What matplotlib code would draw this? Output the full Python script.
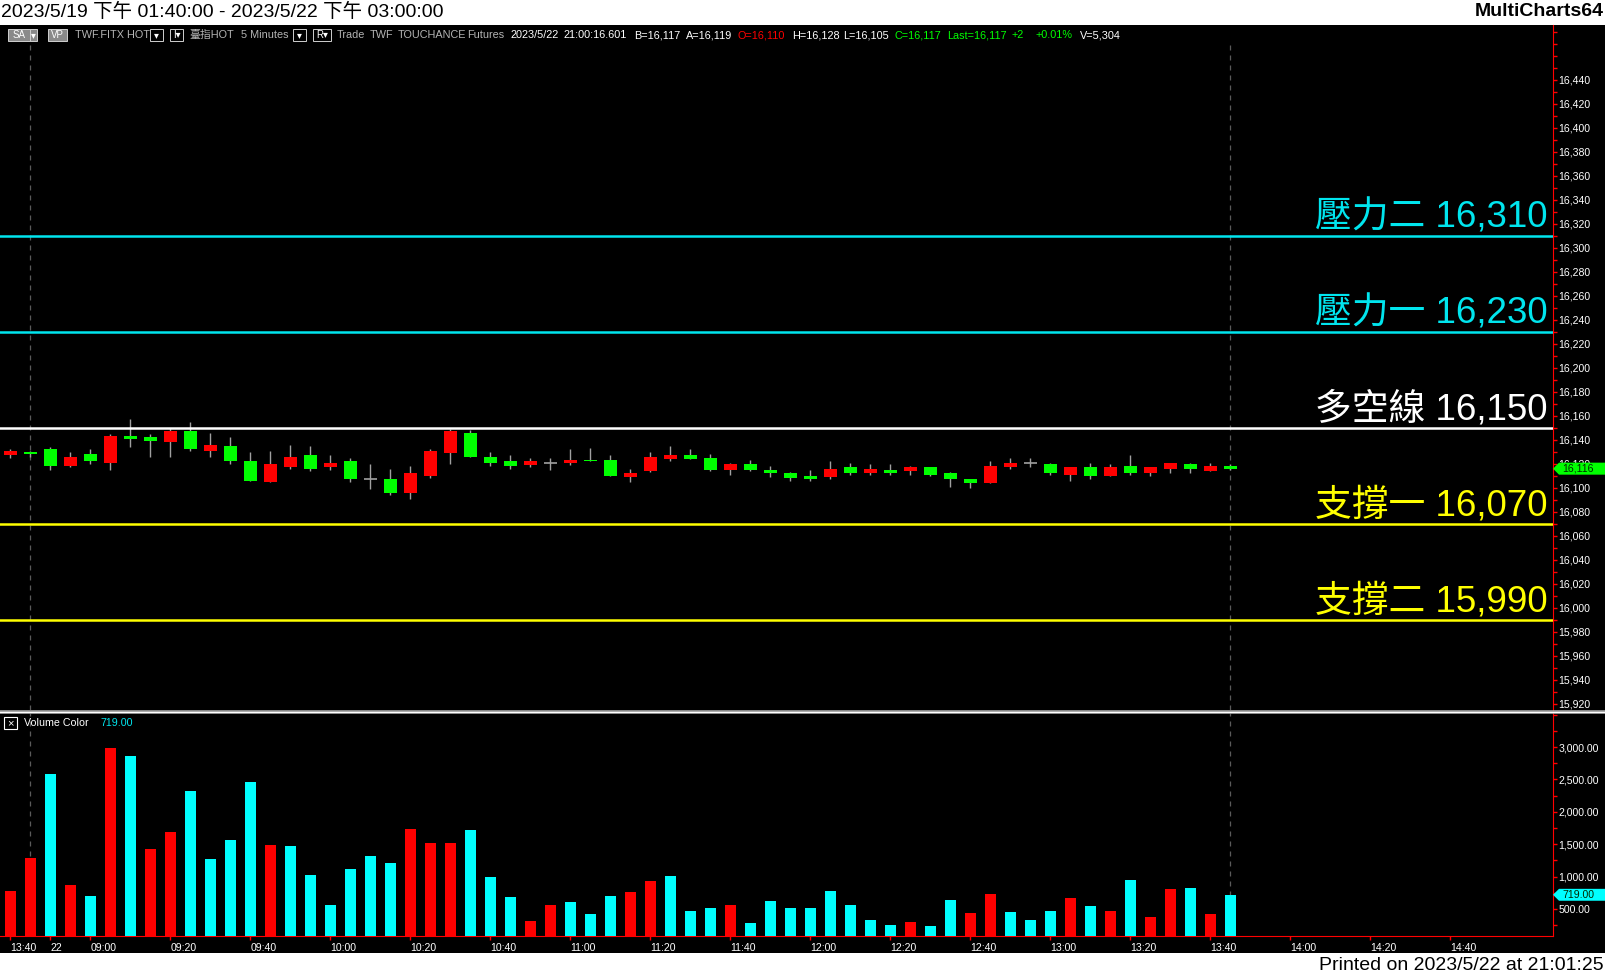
# MultiCharts style 5 minute chart with pressure / support levels
import matplotlib
matplotlib.use('Agg')
import matplotlib.pyplot as plt
from matplotlib.patches import Rectangle, Polygon
from matplotlib.lines import Line2D
import numpy as np

plt.rcParams['font.family'] = ['Liberation Sans', 'Noto Sans CJK TC', 'DejaVu Sans']

# ---- data ----
opens = [16127, 16130, 16132, 16118, 16128, 16121, 16143, 16142, 16138, 16147,
         16131, 16135, 16122, 16105, 16117, 16127, 16117, 16122, 16107, 16107,
         16096, 16110, 16129, 16146, 16126, 16122, 16119, 16121, 16121, 16123,
         16123, 16109, 16114, 16124, 16127, 16125, 16115, 16120, 16115, 16112,
         16110, 16109, 16117, 16112, 16115, 16114, 16117, 16112, 16107, 16104,
         16117, 16121, 16120, 16111, 16117, 16110, 16118, 16112, 16116, 16120,
         16114, 16118]
highs = [16132, 16131, 16134, 16130, 16132, 16145, 16157, 16145, 16150, 16155,
         16146, 16142, 16130, 16131, 16136, 16135, 16127, 16125, 16120, 16116,
         16118, 16132, 16149, 16148, 16130, 16127, 16125, 16125, 16132, 16133,
         16127, 16116, 16130, 16135, 16132, 16128, 16121, 16123, 16118, 16113,
         16115, 16122, 16121, 16120, 16120, 16118, 16117, 16113, 16107, 16122,
         16125, 16125, 16121, 16117, 16121, 16120, 16127, 16117, 16121, 16121,
         16121, 16120]
lows = [16125, 16126, 16115, 16117, 16120, 16115, 16134, 16126, 16126, 16131,
        16126, 16120, 16106, 16105, 16116, 16114, 16115, 16105, 16099, 16094,
        16091, 16108, 16120, 16126, 16118, 16116, 16117, 16115, 16119, 16122,
        16110, 16105, 16113, 16122, 16124, 16114, 16111, 16114, 16109, 16106,
        16106, 16107, 16111, 16111, 16111, 16111, 16110, 16101, 16100, 16104,
        16116, 16117, 16111, 16106, 16107, 16110, 16111, 16110, 16112, 16112,
        16114, 16115]
closes = [16131, 16128, 16118, 16126, 16122, 16143, 16141, 16139, 16147, 16132,
          16136, 16122, 16106, 16120, 16126, 16116, 16121, 16107, 16107, 16096,
          16112, 16131, 16147, 16126, 16121, 16118, 16122, 16121, 16123, 16122,
          16110, 16112, 16126, 16127, 16124, 16115, 16120, 16115, 16112, 16108,
          16107, 16116, 16112, 16116, 16112, 16117, 16111, 16107, 16104, 16118,
          16121, 16121, 16112, 16117, 16110, 16117, 16112, 16117, 16121, 16116,
          16118, 16116]
volumes = [778, 1287, 2583, 870, 701, 2985, 2861, 1425, 1688, 2321,
           1271, 1565, 2460, 1488, 1472, 1025, 562, 1117, 1318, 1210,
           1735, 1518, 1518, 1719, 994, 685, 315, 562, 608, 423,
           701, 762, 932, 1009, 469, 515, 562, 284, 623, 515,
           515, 778, 562, 330, 253, 299, 238, 639, 438, 732,
           454, 330, 469, 670, 546, 469, 947, 376, 809, 824,
           423, 719]
# 1 = red volume bar, 0 = cyan volume bar
vol_up = [1, 1, 0, 1, 0, 1, 0, 1, 1, 0,
          0, 0, 0, 1, 0, 0, 0, 0, 0, 0,
          1, 1, 1, 0, 0, 0, 1, 1, 0, 0,
          0, 1, 1, 0, 0, 0, 1, 0, 0, 0,
          0, 0, 0, 0, 0, 1, 0, 0, 1, 1,
          0, 0, 0, 1, 0, 1, 0, 1, 1, 0,
          1, 0]

tick_idx = [0, 2, 4, 8, 12, 16, 20, 24, 28, 32, 36, 40, 44, 48, 52, 56, 60, 64, 68, 72]
tick_labels = ['13:40', '22', '09:00', '09:20', '09:40', '10:00', '10:20', '10:40',
               '11:00', '11:20', '11:40', '12:00', '12:20', '12:40', '13:00', '13:20',
               '13:40', '14:00', '14:20', '14:40']
session_end = [1, 61]

level_names = ['壓力二', '壓力一', '多空線', '支撐一', '支撐二']
level_values = [16310, 16230, 16150, 16070, 15990]
level_colors = ['#00e5ee', '#00e5ee', '#ffffff', '#ffff00', '#ffff00']

last_price = 16116
last_volume = 719.00

# ---- figure layout in pixels ----
W, H = 1606, 976
AX_R = 1553


def fx(px):
    return px / W


def fy(py):
    return 1 - py / H


fig = plt.figure(figsize=(W / 100, H / 100), dpi=100)
fig.patch.set_facecolor('white')
fig.add_artist(Rectangle((0, fy(953)), 1, fy(25) - fy(953), transform=fig.transFigure,
                         facecolor='black', edgecolor='none', zorder=-5))

ax = fig.add_axes([0, fy(710), fx(AX_R), (710 - 25) / H])
axv = fig.add_axes([0, fy(936), fx(AX_R), (936 - 713) / H])
for a in (ax, axv):
    a.set_facecolor('black')
    a.set_xlim(-0.525, (AX_R - 10.5) / 20)
    for s in ('top', 'left', 'bottom'):
        a.spines[s].set_visible(False)
    a.spines['right'].set_color('red')
axv.spines['bottom'].set_visible(True)
axv.spines['bottom'].set_color('red')

p_lo, p_hi = 15914.9, 16485.7
ax.set_ylim(p_lo, p_hi)
axv.set_ylim(83, 3525)

# ---- candles ----
o, h, l, c = (np.array(v, dtype=float) for v in (opens, highs, lows, closes))
x = np.arange(len(o))
body_col = np.where(c > o, '#ff0000', '#00ff00')
ax.vlines(x, l, h, color='#a0a0a0', lw=1, zorder=2)
ax.bar(x, np.abs(c - o), bottom=np.minimum(o, c), width=0.65, color=body_col,
       linewidth=0, zorder=3)
doji = c == o
ax.hlines(o[doji], x[doji] - 0.325, x[doji] + 0.325, color='#a0a0a0', lw=1.2, zorder=3)

# session end markers
for i in session_end:
    ax.vlines(i, p_lo, 16469, color='#5a5a5a', lw=0.9, linestyles=(0, (4, 4)), zorder=1)
    axv.axvline(i, color='#5a5a5a', lw=0.9, ls=(0, (4, 4)), zorder=1)

# levels
for name, v, col in zip(level_names, level_values, level_colors):
    ax.axhline(v, color=col, lw=1.8, zorder=4)
    ax.text(1548 / AX_R, v + 7, f'{name} {v:,}', transform=ax.get_yaxis_transform(),
            ha='right', va='baseline', fontsize=26.5, color=col, zorder=5,
            family=['Liberation Sans', 'Noto Sans CJK TC'])

# price axis
ax.yaxis.tick_right()
major = np.arange(15920, 16481, 20)
ax.set_yticks(major)
ax.set_yticklabels([f'{v:,}' if v <= 16440 else '' for v in major])
ax.set_yticks(np.arange(15920, 16481, 10), minor=True)
ax.tick_params(axis='y', which='both', direction='out', length=3, width=1,
               color='red', labelcolor='white', labelsize=7.6, pad=1)
ax.set_xticks([])


def tag(axis, yval, half, text, fc):
    tr = axis.get_yaxis_transform()
    pts = [(1, yval), (1 + 6 / AX_R, yval + half), (1 + 52 / AX_R, yval + half),
           (1 + 52 / AX_R, yval - half), (1 + 6 / AX_R, yval - half)]
    axis.add_patch(Polygon(pts, closed=True, transform=tr, facecolor=fc,
                           edgecolor='none', clip_on=False, zorder=6))
    axis.text(1 + 9 / AX_R, yval, text, transform=tr, ha='left', va='center',
              fontsize=7.6, color='#002a00', clip_on=False, zorder=7)


tag(ax, last_price, 5, f'{last_price:,}', '#00ff00')

# ---- volume ----
axv.bar(x, volumes, width=0.55, color=np.where(np.array(vol_up) == 1, '#ff0000', '#00ffff'),
        linewidth=0, zorder=3)
axv.yaxis.tick_right()
vt = np.arange(500, 3001, 500)
axv.set_yticks(vt)
axv.set_yticklabels([f'{v:,.2f}' for v in vt])
axv.set_yticks(np.arange(250, 3501, 250), minor=True)
axv.tick_params(axis='y', which='both', direction='out', length=3, width=1,
                color='red', labelcolor='white', labelsize=7.6, pad=1)
axv.set_xticks(tick_idx)
axv.set_xticklabels(tick_labels)
axv.tick_params(axis='x', direction='out', length=3, width=1, color='red',
                labelcolor='white', labelsize=7.6, pad=2)
for t in axv.get_xticklabels():
    t.set_ha('left')
tag(axv, last_volume, 92, f'{last_volume:.2f}', '#00ffff')

# separator between panels
fig.add_artist(Line2D([0, 1], [fy(711.5)] * 2, transform=fig.transFigure, color='#a8a8a8', lw=2.6))
fig.add_artist(Line2D([0, 1], [fy(711.5)] * 2, transform=fig.transFigure, color='#ffffff', lw=0.8))

# volume study label
fig.add_artist(Rectangle((fx(4), fy(729)), 13 / W, 12 / H, transform=fig.transFigure,
                         facecolor='none', edgecolor='white', lw=0.8))
fig.text(fx(10.5), fy(723), '×', color='white', fontsize=8, ha='center', va='center')
fig.text(fx(24), fy(723), 'Volume Color', color='white', fontsize=7.7, va='center')
fig.text(fx(100), fy(723), f'{last_volume:.2f}', color='#00e5ee', fontsize=7.7, va='center')

# ---- header line ----
hy = fy(35)
grey = '#b4b4b4'
header = [(75, 'TWF.FITX HOT', grey), (189, '臺指HOT', grey), (241, '5 Minutes', grey),
          (337, 'Trade', grey), (370, 'TWF', grey), (398, 'TOUCHANCE', grey),
          (467, 'Futures', grey), (511, '2023/5/22', 'white'), (564, '21:00:16.601', 'white'),
          (634, 'B=16,117', 'white'), (686, 'A=16,119', 'white'), (738, 'O=16,110', '#ff0000'),
          (792, 'H=16,128', 'white'), (843, 'L=16,105', 'white'), (895, 'C=16,117', '#00ff00'),
          (947, 'Last=16,117', '#00ff00'), (1012, '+2', '#00ff00'), (1036, '+0.01%', '#00ff00'),
          (1080, 'V=5,304', 'white')]
for px, s, col in header:
    fig.text(fx(px), hy, s, color=col, fontsize=7.8, va='center', ha='left')

# little buttons
for x0, x1, lab, fill in [(8, 30, 'SA', '#8a8a8a'), (30, 37, '▾', '#8a8a8a'),
                          (48, 67, 'VP', '#8a8a8a'), (150, 163, '▾', 'black'),
                          (170, 183, 'I▾', 'black'), (293, 306, '▾', 'black'),
                          (313, 331, 'R▾', 'black')]:
    fig.add_artist(Rectangle((fx(x0), fy(41)), (x1 - x0) / W, 12 / H, transform=fig.transFigure,
                             facecolor=fill, edgecolor='#d0d0d0', lw=0.7))
    fig.text(fx((x0 + x1) / 2), hy, lab, color='white', fontsize=7, ha='center', va='center',
             family=['Liberation Sans', 'DejaVu Sans'])

# ---- titles ----
fig.text(fx(1), fy(12), '2023/5/19 下午 01:40:00 - 2023/5/22 下午 03:00:00', fontsize=14,
         ha='left', va='center', color='black')
fig.text(fx(1604), fy(12), 'MultiCharts64', fontsize=14, fontweight='bold',
         ha='right', va='center', color='black')
fig.text(fx(1604), fy(965), 'Printed on 2023/5/22 at 21:01:25', fontsize=14,
         ha='right', va='center', color='black')

fig.savefig('out.png', dpi=100, facecolor='white')
